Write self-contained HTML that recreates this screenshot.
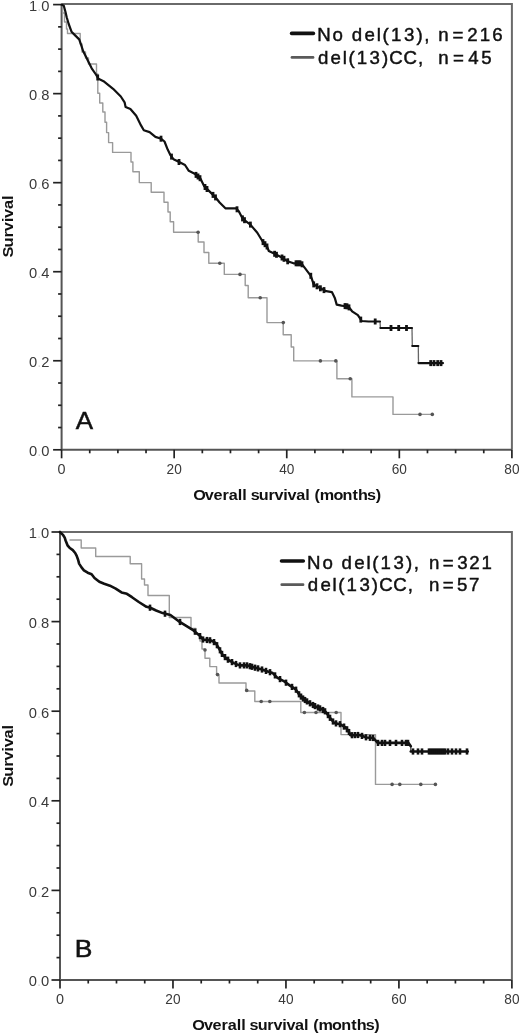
<!DOCTYPE html>
<html><head><meta charset="utf-8"><title>Survival curves</title>
<style>
html,body{margin:0;padding:0;background:#fff;}
body{width:520px;height:1035px;overflow:hidden;}
svg{display:block;filter:blur(0.3px);font-family:"Liberation Sans", sans-serif;}
</style></head>
<body>
<svg width="520" height="1035" viewBox="0 0 520 1035">
<rect width="520" height="1035" fill="#fff"/>
<path d="M61.6,4.0 L511.9,4.0 L511.9,449.8" fill="none" stroke="#6a6a6a" stroke-width="2"/>
<path d="M61.6,4.0 L61.6,449.8 L511.9,449.8" fill="none" stroke="#555" stroke-width="2"/>
<line x1="53.1" y1="449.80" x2="61.6" y2="449.80" stroke="#222" stroke-width="1.7"/>
<line x1="58.1" y1="427.54" x2="61.6" y2="427.54" stroke="#222" stroke-width="1.7"/>
<line x1="58.1" y1="405.28" x2="61.6" y2="405.28" stroke="#222" stroke-width="1.7"/>
<line x1="58.1" y1="383.02" x2="61.6" y2="383.02" stroke="#222" stroke-width="1.7"/>
<line x1="53.1" y1="360.76" x2="61.6" y2="360.76" stroke="#222" stroke-width="1.7"/>
<line x1="58.1" y1="338.50" x2="61.6" y2="338.50" stroke="#222" stroke-width="1.7"/>
<line x1="58.1" y1="316.24" x2="61.6" y2="316.24" stroke="#222" stroke-width="1.7"/>
<line x1="58.1" y1="293.98" x2="61.6" y2="293.98" stroke="#222" stroke-width="1.7"/>
<line x1="53.1" y1="271.72" x2="61.6" y2="271.72" stroke="#222" stroke-width="1.7"/>
<line x1="58.1" y1="249.46" x2="61.6" y2="249.46" stroke="#222" stroke-width="1.7"/>
<line x1="58.1" y1="227.20" x2="61.6" y2="227.20" stroke="#222" stroke-width="1.7"/>
<line x1="58.1" y1="204.94" x2="61.6" y2="204.94" stroke="#222" stroke-width="1.7"/>
<line x1="53.1" y1="182.68" x2="61.6" y2="182.68" stroke="#222" stroke-width="1.7"/>
<line x1="58.1" y1="160.42" x2="61.6" y2="160.42" stroke="#222" stroke-width="1.7"/>
<line x1="58.1" y1="138.16" x2="61.6" y2="138.16" stroke="#222" stroke-width="1.7"/>
<line x1="58.1" y1="115.90" x2="61.6" y2="115.90" stroke="#222" stroke-width="1.7"/>
<line x1="53.1" y1="93.64" x2="61.6" y2="93.64" stroke="#222" stroke-width="1.7"/>
<line x1="58.1" y1="71.38" x2="61.6" y2="71.38" stroke="#222" stroke-width="1.7"/>
<line x1="58.1" y1="49.12" x2="61.6" y2="49.12" stroke="#222" stroke-width="1.7"/>
<line x1="58.1" y1="26.86" x2="61.6" y2="26.86" stroke="#222" stroke-width="1.7"/>
<line x1="53.1" y1="4.60" x2="61.6" y2="4.60" stroke="#222" stroke-width="1.7"/>
<line x1="61.60" y1="449.8" x2="61.60" y2="458.3" stroke="#222" stroke-width="1.7"/>
<line x1="89.74" y1="449.8" x2="89.74" y2="453.3" stroke="#222" stroke-width="1.7"/>
<line x1="117.89" y1="449.8" x2="117.89" y2="453.3" stroke="#222" stroke-width="1.7"/>
<line x1="146.03" y1="449.8" x2="146.03" y2="453.3" stroke="#222" stroke-width="1.7"/>
<line x1="174.17" y1="449.8" x2="174.17" y2="458.3" stroke="#222" stroke-width="1.7"/>
<line x1="202.32" y1="449.8" x2="202.32" y2="453.3" stroke="#222" stroke-width="1.7"/>
<line x1="230.46" y1="449.8" x2="230.46" y2="453.3" stroke="#222" stroke-width="1.7"/>
<line x1="258.61" y1="449.8" x2="258.61" y2="453.3" stroke="#222" stroke-width="1.7"/>
<line x1="286.75" y1="449.8" x2="286.75" y2="458.3" stroke="#222" stroke-width="1.7"/>
<line x1="314.89" y1="449.8" x2="314.89" y2="453.3" stroke="#222" stroke-width="1.7"/>
<line x1="343.04" y1="449.8" x2="343.04" y2="453.3" stroke="#222" stroke-width="1.7"/>
<line x1="371.18" y1="449.8" x2="371.18" y2="453.3" stroke="#222" stroke-width="1.7"/>
<line x1="399.32" y1="449.8" x2="399.32" y2="458.3" stroke="#222" stroke-width="1.7"/>
<line x1="427.47" y1="449.8" x2="427.47" y2="453.3" stroke="#222" stroke-width="1.7"/>
<line x1="455.61" y1="449.8" x2="455.61" y2="453.3" stroke="#222" stroke-width="1.7"/>
<line x1="483.76" y1="449.8" x2="483.76" y2="453.3" stroke="#222" stroke-width="1.7"/>
<line x1="511.90" y1="449.8" x2="511.90" y2="458.3" stroke="#222" stroke-width="1.7"/>
<text x="49.5" y="456.20" text-anchor="end" font-size="14.4" fill="#3a3a3a" textLength="20.5" lengthAdjust="spacingAndGlyphs">0<tspan fill="#d8d8d8">.</tspan>0</text>
<text x="49.5" y="367.16" text-anchor="end" font-size="14.4" fill="#3a3a3a" textLength="20.5" lengthAdjust="spacingAndGlyphs">0<tspan fill="#d8d8d8">.</tspan>2</text>
<text x="49.5" y="278.12" text-anchor="end" font-size="14.4" fill="#3a3a3a" textLength="20.5" lengthAdjust="spacingAndGlyphs">0<tspan fill="#d8d8d8">.</tspan>4</text>
<text x="49.5" y="189.08" text-anchor="end" font-size="14.4" fill="#3a3a3a" textLength="20.5" lengthAdjust="spacingAndGlyphs">0<tspan fill="#d8d8d8">.</tspan>6</text>
<text x="49.5" y="100.04" text-anchor="end" font-size="14.4" fill="#3a3a3a" textLength="20.5" lengthAdjust="spacingAndGlyphs">0<tspan fill="#d8d8d8">.</tspan>8</text>
<text x="49.5" y="11.00" text-anchor="end" font-size="14.4" fill="#3a3a3a" textLength="20.5" lengthAdjust="spacingAndGlyphs">1<tspan fill="#d8d8d8">.</tspan>0</text>
<text x="61.60" y="473.6" text-anchor="middle" font-size="14.4" fill="#3a3a3a">0</text>
<text x="174.17" y="473.6" text-anchor="middle" font-size="14.4" fill="#3a3a3a" textLength="15.2" lengthAdjust="spacingAndGlyphs">20</text>
<text x="286.75" y="473.6" text-anchor="middle" font-size="14.4" fill="#3a3a3a" textLength="15.2" lengthAdjust="spacingAndGlyphs">40</text>
<text x="399.32" y="473.6" text-anchor="middle" font-size="14.4" fill="#3a3a3a" textLength="15.2" lengthAdjust="spacingAndGlyphs">60</text>
<text x="511.90" y="473.6" text-anchor="middle" font-size="14.4" fill="#3a3a3a" textLength="15.2" lengthAdjust="spacingAndGlyphs">80</text>
<polyline points="61.6,4.6 62.6,4.6 62.6,13.0 64.5,13.0 64.5,22.0 66.5,22.0 66.5,29.0 67.5,29.0 67.5,33.5 80.2,33.5 80.2,44.0 82.0,44.0 82.0,52.0 85.5,52.0 85.5,58.0 88.5,58.0 88.5,64.0 96.5,64.0 96.5,74.0 97.8,74.0 97.8,93.2 99.7,93.2 99.7,103.0 102.8,103.0 102.8,112.0 105.0,112.0 105.0,122.2 106.6,122.2 106.6,132.6 108.6,132.6 108.6,142.6 112.6,142.6 112.6,152.4 131.0,152.4 131.0,162.0 132.9,162.0 132.9,171.8 139.3,171.8 139.3,182.6 151.2,182.6 151.2,192.3 164.0,192.3 164.0,202.3 168.0,202.3 168.0,212.0 170.2,212.0 170.2,221.8 173.6,221.8 173.6,232.3 198.2,232.3 198.2,242.0 204.0,242.0 204.0,252.5 208.8,252.5 208.8,263.2 224.3,263.2 224.3,274.4 245.2,274.4 245.2,285.5 248.2,285.5 248.2,297.8 267.0,297.8 267.0,322.6 283.2,322.6 283.2,334.8 291.2,334.8 291.2,347.0 293.7,347.0 293.7,360.9 336.9,360.9 336.9,378.8 351.9,378.8 351.9,396.9 393.0,396.9 393.0,414.4 433.0,414.4" fill="none" stroke="#9a9a9a" stroke-width="1.4" stroke-linejoin="round" />
<circle cx="198.1" cy="232.3" r="1.8" fill="#555"/>
<circle cx="219.8" cy="263.2" r="1.8" fill="#555"/>
<circle cx="240" cy="274.4" r="1.8" fill="#555"/>
<circle cx="260.2" cy="297.8" r="1.8" fill="#555"/>
<circle cx="283.3" cy="322.6" r="1.8" fill="#555"/>
<circle cx="320.4" cy="360.9" r="1.8" fill="#555"/>
<circle cx="335.8" cy="360.9" r="1.8" fill="#555"/>
<circle cx="350.2" cy="378.8" r="1.8" fill="#555"/>
<circle cx="420" cy="414.4" r="1.8" fill="#555"/>
<circle cx="432.3" cy="414.4" r="1.8" fill="#555"/>
<line x1="380" y1="321.5" x2="380.4" y2="328" stroke="#666" stroke-width="1.3"/>
<line x1="412" y1="328" x2="412.3" y2="346" stroke="#666" stroke-width="1.3"/>
<line x1="418.3" y1="346" x2="418.5" y2="363.1" stroke="#666" stroke-width="1.3"/>
<polyline points="61.6,4.6 63.8,5.8 65.5,12.0 66.7,17.3 68.7,24.0 71.5,31.7 75.4,35.6 79.2,39.4 81.2,45.2 83.1,51.0 86.0,56.7 88.8,62.5 91.7,68.3 95.6,74.0 98.5,78.8 103.5,81.2 113.1,88.8 120.8,96.5 124.6,102.3 125.6,107.1 130.4,109.0 136.2,115.8 141.0,125.4 143.8,130.2 149.6,132.1 155.4,136.9 161.2,138.8 164.5,141.5 167.7,149.6 170.6,155.4 173.5,159.2 179.2,162.1 185.0,165.0 188.8,170.8 194.6,173.7 200.4,178.5 204.2,186.2 210.0,191.9 215.8,197.7 219.6,202.5 225.4,208.3 236.0,208.3 238.8,211.2 242.7,218.8 250.4,224.6 257.3,232.7 263.1,242.3 266.9,246.2 268.8,251.0 274.6,253.8 282.3,257.7 287.7,261.3 293.5,263.3 301.2,263.3 305.0,268.1 310.8,275.8 313.7,284.4 320.4,288.3 326.2,291.2 331.9,292.1 334.8,297.9 336.7,304.6 341.5,305.6 348.3,306.5 352.1,311.3 357.9,315.2 361.7,321.0 368.5,321.5 380.0,321.5" fill="none" stroke="#111" stroke-width="2.2" stroke-linejoin="round" stroke-linecap="round"/>
<polyline points="380.4,328.0 412.0,328.0" fill="none" stroke="#111" stroke-width="2.2" stroke-linejoin="round" stroke-linecap="round"/>
<polyline points="412.3,346.0 418.3,346.0" fill="none" stroke="#111" stroke-width="2.2" stroke-linejoin="round" stroke-linecap="round"/>
<polyline points="418.5,363.1 443.0,363.1" fill="none" stroke="#111" stroke-width="2.2" stroke-linejoin="round" stroke-linecap="round"/>
<line x1="97.7" y1="74.5" x2="97.7" y2="80.5" stroke="#111" stroke-width="2.8"/>
<line x1="161.0" y1="135.7" x2="161.0" y2="141.7" stroke="#111" stroke-width="2.8"/>
<line x1="171.5" y1="153.6" x2="171.5" y2="159.6" stroke="#111" stroke-width="2.8"/>
<line x1="179.0" y1="159.0" x2="179.0" y2="165.0" stroke="#111" stroke-width="2.8"/>
<line x1="196.0" y1="171.9" x2="196.0" y2="177.9" stroke="#111" stroke-width="2.8"/>
<line x1="198.0" y1="173.5" x2="198.0" y2="179.5" stroke="#111" stroke-width="2.8"/>
<line x1="200.0" y1="175.2" x2="200.0" y2="181.2" stroke="#111" stroke-width="2.8"/>
<line x1="205.0" y1="184.0" x2="205.0" y2="190.0" stroke="#111" stroke-width="2.8"/>
<line x1="207.0" y1="186.0" x2="207.0" y2="192.0" stroke="#111" stroke-width="2.8"/>
<line x1="213.0" y1="191.9" x2="213.0" y2="197.9" stroke="#111" stroke-width="2.8"/>
<line x1="215.5" y1="194.4" x2="215.5" y2="200.4" stroke="#111" stroke-width="2.8"/>
<line x1="237.0" y1="206.3" x2="237.0" y2="212.3" stroke="#111" stroke-width="2.8"/>
<line x1="242.5" y1="215.4" x2="242.5" y2="221.4" stroke="#111" stroke-width="2.8"/>
<line x1="244.5" y1="217.2" x2="244.5" y2="223.2" stroke="#111" stroke-width="2.8"/>
<line x1="250.4" y1="221.6" x2="250.4" y2="227.6" stroke="#111" stroke-width="2.8"/>
<line x1="263.0" y1="239.1" x2="263.0" y2="245.1" stroke="#111" stroke-width="2.8"/>
<line x1="265.0" y1="241.2" x2="265.0" y2="247.2" stroke="#111" stroke-width="2.8"/>
<line x1="267.0" y1="243.5" x2="267.0" y2="249.5" stroke="#111" stroke-width="2.8"/>
<line x1="274.6" y1="250.8" x2="274.6" y2="256.8" stroke="#111" stroke-width="2.8"/>
<line x1="276.5" y1="251.8" x2="276.5" y2="257.8" stroke="#111" stroke-width="2.8"/>
<line x1="282.0" y1="254.5" x2="282.0" y2="260.5" stroke="#111" stroke-width="2.8"/>
<line x1="284.0" y1="255.8" x2="284.0" y2="261.8" stroke="#111" stroke-width="2.8"/>
<line x1="287.7" y1="258.3" x2="287.7" y2="264.3" stroke="#111" stroke-width="2.8"/>
<line x1="296.0" y1="260.3" x2="296.0" y2="266.3" stroke="#111" stroke-width="2.8"/>
<line x1="298.0" y1="260.3" x2="298.0" y2="266.3" stroke="#111" stroke-width="2.8"/>
<line x1="300.0" y1="260.3" x2="300.0" y2="266.3" stroke="#111" stroke-width="2.8"/>
<line x1="302.0" y1="261.3" x2="302.0" y2="267.3" stroke="#111" stroke-width="2.8"/>
<line x1="310.8" y1="272.8" x2="310.8" y2="278.8" stroke="#111" stroke-width="2.8"/>
<line x1="313.7" y1="281.4" x2="313.7" y2="287.4" stroke="#111" stroke-width="2.8"/>
<line x1="317.0" y1="283.3" x2="317.0" y2="289.3" stroke="#111" stroke-width="2.8"/>
<line x1="320.4" y1="285.3" x2="320.4" y2="291.3" stroke="#111" stroke-width="2.8"/>
<line x1="324.0" y1="287.1" x2="324.0" y2="293.1" stroke="#111" stroke-width="2.8"/>
<line x1="345.0" y1="303.1" x2="345.0" y2="309.1" stroke="#111" stroke-width="2.8"/>
<line x1="347.0" y1="303.3" x2="347.0" y2="309.3" stroke="#111" stroke-width="2.8"/>
<line x1="349.0" y1="304.4" x2="349.0" y2="310.4" stroke="#111" stroke-width="2.8"/>
<line x1="360.8" y1="316.6" x2="360.8" y2="322.6" stroke="#111" stroke-width="2.8"/>
<line x1="375.2" y1="318.5" x2="375.2" y2="324.5" stroke="#111" stroke-width="2.8"/>
<line x1="391.0" y1="325.0" x2="391.0" y2="331.0" stroke="#111" stroke-width="2.8"/>
<line x1="398.7" y1="325.0" x2="398.7" y2="331.0" stroke="#111" stroke-width="2.8"/>
<line x1="406.5" y1="325.0" x2="406.5" y2="331.0" stroke="#111" stroke-width="2.8"/>
<line x1="430.7" y1="360.1" x2="430.7" y2="366.1" stroke="#111" stroke-width="2.8"/>
<line x1="434.0" y1="360.1" x2="434.0" y2="366.1" stroke="#111" stroke-width="2.8"/>
<line x1="437.7" y1="360.1" x2="437.7" y2="366.1" stroke="#111" stroke-width="2.8"/>
<line x1="441.0" y1="360.1" x2="441.0" y2="366.1" stroke="#111" stroke-width="2.8"/>
<text x="75.8" y="428.6" font-size="24.5" fill="#111" stroke="#111" stroke-width="0.5" textLength="17.3" lengthAdjust="spacingAndGlyphs">A</text>
<line x1="291.6" y1="33.4" x2="313.4" y2="33.4" stroke="#111" stroke-width="3.6" stroke-linecap="round"/>
<line x1="292" y1="57.4" x2="313" y2="57.4" stroke="#5a5a5a" stroke-width="2.8" stroke-linecap="round"/>
<text transform="translate(13.4,0) rotate(-90) scale(1.06,1)" x="-242.90 -233.43 -224.11 -218.18 -209.75 -205.63 -197.26 -188.68" y="0" font-size="15.5" font-weight="bold" fill="#111" >Survival</text>
<text transform="scale(1.06,1)" x="182.30 193.26 201.47 209.97 215.90 224.31 228.54 232.80 236.50 244.14 253.27 259.06 267.33 271.34 279.52 287.93 292.19 296.74 301.74 314.53 323.17 332.63 337.85 346.34 354.53" y="499.6" font-size="15.3" font-weight="bold" fill="#111" >Overall survival (months)</text>
<text transform="scale(1.02,1)" x="310.95 326.07 337.91 344.89 357.39 369.37 375.04 383.26 395.98 408.29 415.87" y="40.8" font-size="18.3" fill="#111" stroke="#111" stroke-width="0.45">No del(13),</text>
<text transform="scale(1.02,1)" x="429.77 443.64 458.05 470.27 482.49" y="40.8" font-size="18.3" fill="#111" stroke="#111" stroke-width="0.45">n=216</text>
<text transform="scale(1.02,1)" x="311.68 324.07 335.97 341.57 349.70 362.30 374.51 381.73 395.57 409.70" y="64.4" font-size="18.3" fill="#111" stroke="#111" stroke-width="0.45">del(13)CC,</text>
<text transform="scale(1.02,1)" x="429.77 444.20 459.17 471.87" y="64.4" font-size="18.3" fill="#111" stroke="#111" stroke-width="0.45">n=45</text>
<path d="M60.0,532.0 L511.9,532.0 L511.9,980.0" fill="none" stroke="#6a6a6a" stroke-width="2"/>
<path d="M60.0,532.0 L60.0,980.0 L511.9,980.0" fill="none" stroke="#555" stroke-width="2"/>
<line x1="51.5" y1="980.00" x2="60.0" y2="980.00" stroke="#222" stroke-width="1.7"/>
<line x1="56.5" y1="957.60" x2="60.0" y2="957.60" stroke="#222" stroke-width="1.7"/>
<line x1="56.5" y1="935.20" x2="60.0" y2="935.20" stroke="#222" stroke-width="1.7"/>
<line x1="56.5" y1="912.80" x2="60.0" y2="912.80" stroke="#222" stroke-width="1.7"/>
<line x1="51.5" y1="890.40" x2="60.0" y2="890.40" stroke="#222" stroke-width="1.7"/>
<line x1="56.5" y1="868.00" x2="60.0" y2="868.00" stroke="#222" stroke-width="1.7"/>
<line x1="56.5" y1="845.60" x2="60.0" y2="845.60" stroke="#222" stroke-width="1.7"/>
<line x1="56.5" y1="823.20" x2="60.0" y2="823.20" stroke="#222" stroke-width="1.7"/>
<line x1="51.5" y1="800.80" x2="60.0" y2="800.80" stroke="#222" stroke-width="1.7"/>
<line x1="56.5" y1="778.40" x2="60.0" y2="778.40" stroke="#222" stroke-width="1.7"/>
<line x1="56.5" y1="756.00" x2="60.0" y2="756.00" stroke="#222" stroke-width="1.7"/>
<line x1="56.5" y1="733.60" x2="60.0" y2="733.60" stroke="#222" stroke-width="1.7"/>
<line x1="51.5" y1="711.20" x2="60.0" y2="711.20" stroke="#222" stroke-width="1.7"/>
<line x1="56.5" y1="688.80" x2="60.0" y2="688.80" stroke="#222" stroke-width="1.7"/>
<line x1="56.5" y1="666.40" x2="60.0" y2="666.40" stroke="#222" stroke-width="1.7"/>
<line x1="56.5" y1="644.00" x2="60.0" y2="644.00" stroke="#222" stroke-width="1.7"/>
<line x1="51.5" y1="621.60" x2="60.0" y2="621.60" stroke="#222" stroke-width="1.7"/>
<line x1="56.5" y1="599.20" x2="60.0" y2="599.20" stroke="#222" stroke-width="1.7"/>
<line x1="56.5" y1="576.80" x2="60.0" y2="576.80" stroke="#222" stroke-width="1.7"/>
<line x1="56.5" y1="554.40" x2="60.0" y2="554.40" stroke="#222" stroke-width="1.7"/>
<line x1="51.5" y1="532.00" x2="60.0" y2="532.00" stroke="#222" stroke-width="1.7"/>
<line x1="60.00" y1="980.0" x2="60.00" y2="988.5" stroke="#222" stroke-width="1.7"/>
<line x1="88.24" y1="980.0" x2="88.24" y2="983.5" stroke="#222" stroke-width="1.7"/>
<line x1="116.49" y1="980.0" x2="116.49" y2="983.5" stroke="#222" stroke-width="1.7"/>
<line x1="144.73" y1="980.0" x2="144.73" y2="983.5" stroke="#222" stroke-width="1.7"/>
<line x1="172.97" y1="980.0" x2="172.97" y2="988.5" stroke="#222" stroke-width="1.7"/>
<line x1="201.22" y1="980.0" x2="201.22" y2="983.5" stroke="#222" stroke-width="1.7"/>
<line x1="229.46" y1="980.0" x2="229.46" y2="983.5" stroke="#222" stroke-width="1.7"/>
<line x1="257.71" y1="980.0" x2="257.71" y2="983.5" stroke="#222" stroke-width="1.7"/>
<line x1="285.95" y1="980.0" x2="285.95" y2="988.5" stroke="#222" stroke-width="1.7"/>
<line x1="314.19" y1="980.0" x2="314.19" y2="983.5" stroke="#222" stroke-width="1.7"/>
<line x1="342.44" y1="980.0" x2="342.44" y2="983.5" stroke="#222" stroke-width="1.7"/>
<line x1="370.68" y1="980.0" x2="370.68" y2="983.5" stroke="#222" stroke-width="1.7"/>
<line x1="398.92" y1="980.0" x2="398.92" y2="988.5" stroke="#222" stroke-width="1.7"/>
<line x1="427.17" y1="980.0" x2="427.17" y2="983.5" stroke="#222" stroke-width="1.7"/>
<line x1="455.41" y1="980.0" x2="455.41" y2="983.5" stroke="#222" stroke-width="1.7"/>
<line x1="483.66" y1="980.0" x2="483.66" y2="983.5" stroke="#222" stroke-width="1.7"/>
<line x1="511.90" y1="980.0" x2="511.90" y2="988.5" stroke="#222" stroke-width="1.7"/>
<text x="49.3" y="986.40" text-anchor="end" font-size="14.4" fill="#3a3a3a" textLength="20.5" lengthAdjust="spacingAndGlyphs">0<tspan fill="#d8d8d8">.</tspan>0</text>
<text x="49.3" y="896.80" text-anchor="end" font-size="14.4" fill="#3a3a3a" textLength="20.5" lengthAdjust="spacingAndGlyphs">0<tspan fill="#d8d8d8">.</tspan>2</text>
<text x="49.3" y="807.20" text-anchor="end" font-size="14.4" fill="#3a3a3a" textLength="20.5" lengthAdjust="spacingAndGlyphs">0<tspan fill="#d8d8d8">.</tspan>4</text>
<text x="49.3" y="717.60" text-anchor="end" font-size="14.4" fill="#3a3a3a" textLength="20.5" lengthAdjust="spacingAndGlyphs">0<tspan fill="#d8d8d8">.</tspan>6</text>
<text x="49.3" y="628.00" text-anchor="end" font-size="14.4" fill="#3a3a3a" textLength="20.5" lengthAdjust="spacingAndGlyphs">0<tspan fill="#d8d8d8">.</tspan>8</text>
<text x="49.3" y="538.40" text-anchor="end" font-size="14.4" fill="#3a3a3a" textLength="20.5" lengthAdjust="spacingAndGlyphs">1<tspan fill="#d8d8d8">.</tspan>0</text>
<text x="60.00" y="1003.8" text-anchor="middle" font-size="14.4" fill="#3a3a3a">0</text>
<text x="172.97" y="1003.8" text-anchor="middle" font-size="14.4" fill="#3a3a3a" textLength="15.2" lengthAdjust="spacingAndGlyphs">20</text>
<text x="285.95" y="1003.8" text-anchor="middle" font-size="14.4" fill="#3a3a3a" textLength="15.2" lengthAdjust="spacingAndGlyphs">40</text>
<text x="398.92" y="1003.8" text-anchor="middle" font-size="14.4" fill="#3a3a3a" textLength="15.2" lengthAdjust="spacingAndGlyphs">60</text>
<text x="511.90" y="1003.8" text-anchor="middle" font-size="14.4" fill="#3a3a3a" textLength="15.2" lengthAdjust="spacingAndGlyphs">80</text>
<polyline points="69.5,540.0 81.2,540.0 81.2,548.0 95.7,548.0 95.7,556.5 130.2,556.5 130.2,563.8 141.6,563.8 141.6,579.0 144.5,579.0 144.5,585.0 148.0,585.0 148.0,595.5 169.3,595.5 169.3,617.5 191.0,617.5 191.0,628.5 196.0,628.5 196.0,634.0 200.0,634.0 200.0,641.0 202.0,641.0 202.0,649.0 205.0,649.0 205.0,658.3 209.8,658.3 209.8,666.6 216.6,666.6 216.6,675.0 219.0,675.0 219.0,683.0 246.0,683.0 246.0,691.0 254.8,691.0 254.8,701.5 300.8,701.5 300.8,712.5 341.0,712.5 341.0,734.6 375.5,734.6 375.5,784.4 436.0,784.4" fill="none" stroke="#9a9a9a" stroke-width="1.4" stroke-linejoin="round" />
<circle cx="205" cy="650" r="1.8" fill="#555"/>
<circle cx="217.5" cy="674.6" r="1.8" fill="#555"/>
<circle cx="246.7" cy="690.4" r="1.8" fill="#555"/>
<circle cx="261.2" cy="701.5" r="1.8" fill="#555"/>
<circle cx="269.8" cy="701.5" r="1.8" fill="#555"/>
<circle cx="304.4" cy="712.5" r="1.8" fill="#555"/>
<circle cx="316" cy="712.5" r="1.8" fill="#555"/>
<circle cx="336.2" cy="712.5" r="1.8" fill="#555"/>
<circle cx="392.1" cy="784.4" r="1.8" fill="#555"/>
<circle cx="399.8" cy="784.4" r="1.8" fill="#555"/>
<circle cx="420.8" cy="784.4" r="1.8" fill="#555"/>
<circle cx="435.4" cy="784.4" r="1.8" fill="#555"/>
<line x1="410.8" y1="746.2" x2="410.8" y2="751.5" stroke="#555" stroke-width="1.4"/>
<polyline points="60.0,532.0 60.3,532.3 63.2,535.2 64.7,537.6 65.6,540.5 67.5,545.3 69.5,547.7 72.8,550.1 75.2,553.0 76.7,555.9 78.1,559.7 79.1,563.6 81.5,567.4 83.9,570.3 87.7,572.7 91.6,574.2 94.5,578.0 99.3,581.8 104.2,583.8 109.9,585.7 115.7,588.6 121.5,592.4 126.9,593.8 132.0,597.2 138.8,602.0 146.5,606.8 150.3,607.8 156.1,610.5 162.7,613.1 170.4,615.0 178.1,620.8 185.8,625.6 193.5,630.4 199.2,635.2 203.1,639.6 210.8,640.4 215.6,642.9 218.5,647.7 222.3,654.4 227.1,659.2 233.8,663.1 239.6,665.4 247.7,665.4 253.5,667.3 261.2,669.2 266.9,671.2 272.7,673.1 277.5,677.9 283.3,680.8 290.0,685.6 295.8,689.4 299.6,695.2 303.5,699.0 309.2,702.9 316.0,706.7 320.8,708.7 325.4,711.5 329.6,717.3 334.2,723.0 340.0,724.2 345.8,727.7 349.2,732.3 350.4,735.2 359.6,735.0 366.5,737.5 373.4,738.0 377.7,742.9 408.5,742.9 410.8,746.2" fill="none" stroke="#111" stroke-width="2.6" stroke-linejoin="round" stroke-linecap="round"/>
<polyline points="410.8,751.5 467.7,751.5" fill="none" stroke="#111" stroke-width="2.6" stroke-linejoin="round" stroke-linecap="round"/>
<line x1="150.0" y1="604.6" x2="150.0" y2="610.8" stroke="#111" stroke-width="2.6"/>
<line x1="165.0" y1="610.6" x2="165.0" y2="616.8" stroke="#111" stroke-width="2.6"/>
<line x1="180.0" y1="618.9" x2="180.0" y2="625.1" stroke="#111" stroke-width="2.6"/>
<line x1="195.0" y1="628.6" x2="195.0" y2="634.8" stroke="#111" stroke-width="2.6"/>
<line x1="200.0" y1="633.0" x2="200.0" y2="639.2" stroke="#111" stroke-width="2.6"/>
<line x1="203.0" y1="636.4" x2="203.0" y2="642.6" stroke="#111" stroke-width="2.6"/>
<line x1="207.0" y1="636.9" x2="207.0" y2="643.1" stroke="#111" stroke-width="2.6"/>
<line x1="210.0" y1="637.2" x2="210.0" y2="643.4" stroke="#111" stroke-width="2.6"/>
<line x1="214.0" y1="639.0" x2="214.0" y2="645.2" stroke="#111" stroke-width="2.6"/>
<line x1="217.0" y1="642.1" x2="217.0" y2="648.3" stroke="#111" stroke-width="2.6"/>
<line x1="220.0" y1="647.2" x2="220.0" y2="653.4" stroke="#111" stroke-width="2.6"/>
<line x1="222.0" y1="650.8" x2="222.0" y2="657.0" stroke="#111" stroke-width="2.6"/>
<line x1="225.0" y1="654.0" x2="225.0" y2="660.2" stroke="#111" stroke-width="2.6"/>
<line x1="228.0" y1="656.6" x2="228.0" y2="662.8" stroke="#111" stroke-width="2.6"/>
<line x1="232.0" y1="659.0" x2="232.0" y2="665.2" stroke="#111" stroke-width="2.6"/>
<line x1="236.0" y1="660.9" x2="236.0" y2="667.1" stroke="#111" stroke-width="2.6"/>
<line x1="240.0" y1="662.3" x2="240.0" y2="668.5" stroke="#111" stroke-width="2.6"/>
<line x1="244.0" y1="662.3" x2="244.0" y2="668.5" stroke="#111" stroke-width="2.6"/>
<line x1="247.0" y1="662.3" x2="247.0" y2="668.5" stroke="#111" stroke-width="2.6"/>
<line x1="250.0" y1="663.1" x2="250.0" y2="669.3" stroke="#111" stroke-width="2.6"/>
<line x1="252.0" y1="663.7" x2="252.0" y2="669.9" stroke="#111" stroke-width="2.6"/>
<line x1="255.0" y1="664.6" x2="255.0" y2="670.8" stroke="#111" stroke-width="2.6"/>
<line x1="258.0" y1="665.3" x2="258.0" y2="671.5" stroke="#111" stroke-width="2.6"/>
<line x1="262.0" y1="666.4" x2="262.0" y2="672.6" stroke="#111" stroke-width="2.6"/>
<line x1="266.0" y1="667.8" x2="266.0" y2="674.0" stroke="#111" stroke-width="2.6"/>
<line x1="270.0" y1="669.1" x2="270.0" y2="675.3" stroke="#111" stroke-width="2.6"/>
<line x1="275.0" y1="672.3" x2="275.0" y2="678.5" stroke="#111" stroke-width="2.6"/>
<line x1="280.0" y1="676.0" x2="280.0" y2="682.2" stroke="#111" stroke-width="2.6"/>
<line x1="286.0" y1="679.6" x2="286.0" y2="685.8" stroke="#111" stroke-width="2.6"/>
<line x1="292.0" y1="683.8" x2="292.0" y2="690.0" stroke="#111" stroke-width="2.6"/>
<line x1="296.0" y1="686.6" x2="296.0" y2="692.8" stroke="#111" stroke-width="2.6"/>
<line x1="299.0" y1="691.2" x2="299.0" y2="697.4" stroke="#111" stroke-width="2.6"/>
<line x1="301.0" y1="693.5" x2="301.0" y2="699.7" stroke="#111" stroke-width="2.6"/>
<line x1="303.0" y1="695.4" x2="303.0" y2="701.6" stroke="#111" stroke-width="2.6"/>
<line x1="305.0" y1="696.9" x2="305.0" y2="703.1" stroke="#111" stroke-width="2.6"/>
<line x1="307.0" y1="698.3" x2="307.0" y2="704.5" stroke="#111" stroke-width="2.6"/>
<line x1="310.0" y1="700.2" x2="310.0" y2="706.4" stroke="#111" stroke-width="2.6"/>
<line x1="313.0" y1="701.9" x2="313.0" y2="708.1" stroke="#111" stroke-width="2.6"/>
<line x1="315.0" y1="703.0" x2="315.0" y2="709.2" stroke="#111" stroke-width="2.6"/>
<line x1="318.0" y1="704.4" x2="318.0" y2="710.6" stroke="#111" stroke-width="2.6"/>
<line x1="320.0" y1="705.3" x2="320.0" y2="711.5" stroke="#111" stroke-width="2.6"/>
<line x1="323.0" y1="706.9" x2="323.0" y2="713.1" stroke="#111" stroke-width="2.6"/>
<line x1="325.0" y1="708.2" x2="325.0" y2="714.4" stroke="#111" stroke-width="2.6"/>
<line x1="328.0" y1="712.0" x2="328.0" y2="718.2" stroke="#111" stroke-width="2.6"/>
<line x1="330.0" y1="714.7" x2="330.0" y2="720.9" stroke="#111" stroke-width="2.6"/>
<line x1="333.0" y1="718.4" x2="333.0" y2="724.6" stroke="#111" stroke-width="2.6"/>
<line x1="336.0" y1="720.3" x2="336.0" y2="726.5" stroke="#111" stroke-width="2.6"/>
<line x1="340.0" y1="721.1" x2="340.0" y2="727.3" stroke="#111" stroke-width="2.6"/>
<line x1="344.0" y1="723.5" x2="344.0" y2="729.7" stroke="#111" stroke-width="2.6"/>
<line x1="347.0" y1="726.2" x2="347.0" y2="732.4" stroke="#111" stroke-width="2.6"/>
<line x1="349.0" y1="728.9" x2="349.0" y2="735.1" stroke="#111" stroke-width="2.6"/>
<line x1="352.0" y1="732.1" x2="352.0" y2="738.3" stroke="#111" stroke-width="2.6"/>
<line x1="355.0" y1="732.0" x2="355.0" y2="738.2" stroke="#111" stroke-width="2.6"/>
<line x1="358.0" y1="731.9" x2="358.0" y2="738.1" stroke="#111" stroke-width="2.6"/>
<line x1="362.0" y1="732.8" x2="362.0" y2="739.0" stroke="#111" stroke-width="2.6"/>
<line x1="366.0" y1="734.2" x2="366.0" y2="740.4" stroke="#111" stroke-width="2.6"/>
<line x1="370.0" y1="734.7" x2="370.0" y2="740.9" stroke="#111" stroke-width="2.6"/>
<line x1="373.0" y1="734.9" x2="373.0" y2="741.1" stroke="#111" stroke-width="2.6"/>
<line x1="378.0" y1="739.8" x2="378.0" y2="746.0" stroke="#111" stroke-width="2.6"/>
<line x1="382.0" y1="739.8" x2="382.0" y2="746.0" stroke="#111" stroke-width="2.6"/>
<line x1="385.0" y1="739.8" x2="385.0" y2="746.0" stroke="#111" stroke-width="2.6"/>
<line x1="390.0" y1="739.8" x2="390.0" y2="746.0" stroke="#111" stroke-width="2.6"/>
<line x1="396.0" y1="739.8" x2="396.0" y2="746.0" stroke="#111" stroke-width="2.6"/>
<line x1="402.0" y1="739.8" x2="402.0" y2="746.0" stroke="#111" stroke-width="2.6"/>
<line x1="406.0" y1="739.8" x2="406.0" y2="746.0" stroke="#111" stroke-width="2.6"/>
<line x1="408.0" y1="739.8" x2="408.0" y2="746.0" stroke="#111" stroke-width="2.6"/>
<line x1="413.0" y1="748.4" x2="413.0" y2="754.6" stroke="#111" stroke-width="2.6"/>
<line x1="418.0" y1="748.4" x2="418.0" y2="754.6" stroke="#111" stroke-width="2.6"/>
<line x1="422.0" y1="748.4" x2="422.0" y2="754.6" stroke="#111" stroke-width="2.6"/>
<line x1="429.0" y1="748.4" x2="429.0" y2="754.6" stroke="#111" stroke-width="2.6"/>
<line x1="431.0" y1="748.4" x2="431.0" y2="754.6" stroke="#111" stroke-width="2.6"/>
<line x1="433.0" y1="748.4" x2="433.0" y2="754.6" stroke="#111" stroke-width="2.6"/>
<line x1="435.0" y1="748.4" x2="435.0" y2="754.6" stroke="#111" stroke-width="2.6"/>
<line x1="437.0" y1="748.4" x2="437.0" y2="754.6" stroke="#111" stroke-width="2.6"/>
<line x1="439.0" y1="748.4" x2="439.0" y2="754.6" stroke="#111" stroke-width="2.6"/>
<line x1="441.0" y1="748.4" x2="441.0" y2="754.6" stroke="#111" stroke-width="2.6"/>
<line x1="443.0" y1="748.4" x2="443.0" y2="754.6" stroke="#111" stroke-width="2.6"/>
<line x1="445.0" y1="748.4" x2="445.0" y2="754.6" stroke="#111" stroke-width="2.6"/>
<line x1="448.0" y1="748.4" x2="448.0" y2="754.6" stroke="#111" stroke-width="2.6"/>
<line x1="452.0" y1="748.4" x2="452.0" y2="754.6" stroke="#111" stroke-width="2.6"/>
<line x1="456.0" y1="748.4" x2="456.0" y2="754.6" stroke="#111" stroke-width="2.6"/>
<line x1="460.0" y1="748.4" x2="460.0" y2="754.6" stroke="#111" stroke-width="2.6"/>
<line x1="467.0" y1="748.4" x2="467.0" y2="754.6" stroke="#111" stroke-width="2.6"/>
<text x="74.8" y="957.0" font-size="24.5" fill="#111" stroke="#111" stroke-width="0.6" textLength="17.6" lengthAdjust="spacingAndGlyphs">B</text>
<line x1="281.5" y1="561.0" x2="303.3" y2="561.0" stroke="#111" stroke-width="3.6" stroke-linecap="round"/>
<line x1="281.8" y1="584.7" x2="303" y2="584.7" stroke="#5a5a5a" stroke-width="2.8" stroke-linecap="round"/>
<text transform="translate(13.4,0) rotate(-90) scale(1.06,1)" x="-742.14 -732.71 -723.41 -717.51 -709.10 -705.01 -696.67 -688.11" y="0" font-size="15.5" font-weight="bold" fill="#111" >Survival</text>
<text transform="scale(1.06,1)" x="181.45 192.38 200.56 209.04 214.95 223.33 227.55 231.80 235.47 243.09 252.20 257.96 266.21 270.20 278.35 286.74 290.99 295.52 300.48 313.25 321.85 331.29 336.48 344.94 353.12" y="1030.5" font-size="15.3" font-weight="bold" fill="#111" >Overall survival (months)</text>
<text transform="scale(1.02,1)" x="301.05 316.13 327.94 334.89 347.36 359.32 364.96 373.15 385.84 398.11 405.68" y="569.0" font-size="18.3" fill="#111" stroke="#111" stroke-width="0.45">No del(13),</text>
<text transform="scale(1.02,1)" x="420.65 434.18 448.25 460.17 472.09" y="569.0" font-size="18.3" fill="#111" stroke="#111" stroke-width="0.45">n=321</text>
<text transform="scale(1.02,1)" x="301.78 314.15 326.04 331.64 339.76 352.35 364.55 371.76 385.58 399.70" y="591.0" font-size="18.3" fill="#111" stroke="#111" stroke-width="0.45">del(13)CC,</text>
<text transform="scale(1.02,1)" x="420.65 434.04 447.96 459.76" y="591.0" font-size="18.3" fill="#111" stroke="#111" stroke-width="0.45">n=57</text>
</svg>
</body></html>
